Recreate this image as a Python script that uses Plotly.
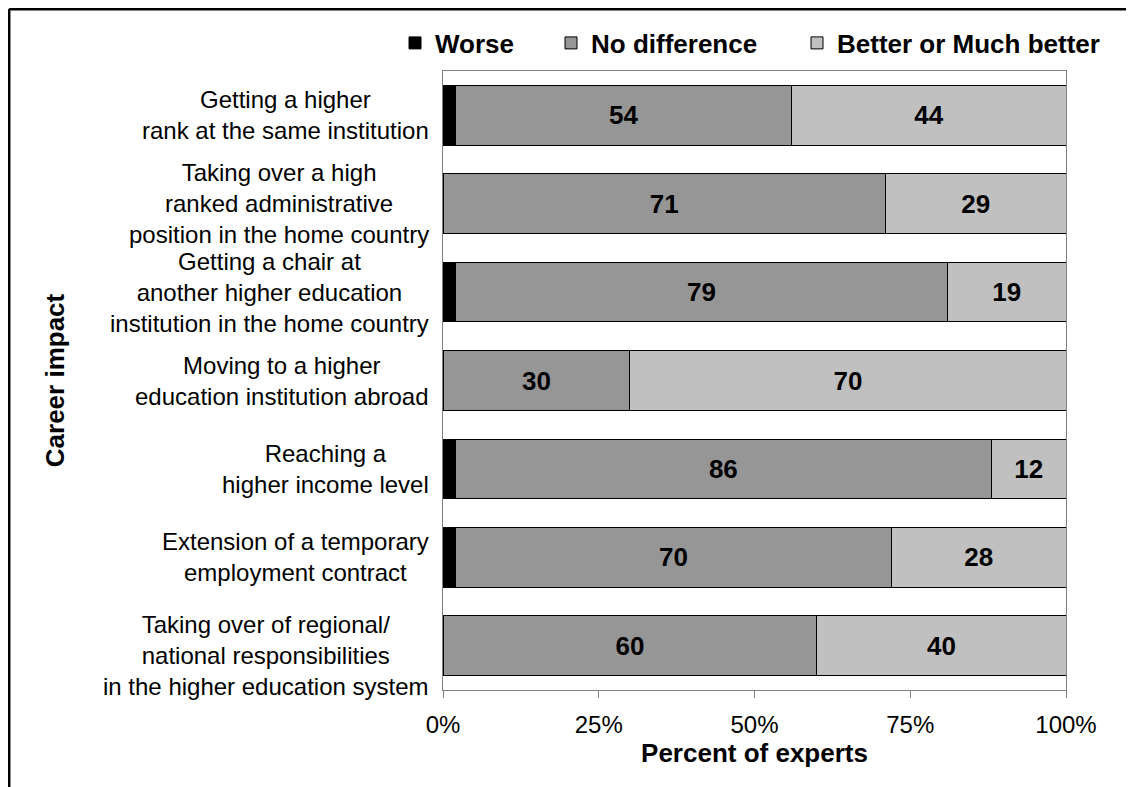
import plotly.graph_objects as go

categories = [
    "Getting a higher<br>rank at the same institution",
    "Taking over a high<br>ranked administrative<br>position in the home country",
    "Getting a chair at<br>another higher education<br>institution in the home country",
    "Moving to a higher<br>education institution abroad",
    "Reaching a<br>higher income level",
    "Extension of a temporary<br>employment contract",
    "Taking over of regional/<br>national responsibilities<br>in the higher education system",
]
worse = [2, 0, 2, 0, 2, 2, 0]
no_difference = [54, 71, 79, 30, 86, 70, 60]
better = [44, 29, 19, 70, 12, 28, 40]
x_ticks = [0, 25, 50, 75, 100]
x_tick_labels = ["0%", "25%", "50%", "75%", "100%"]

FONT = "Liberation Sans, Arial, sans-serif"
OFF = 8  # default page body margin
W, H = 1134 - OFF, 787 - OFF
L, T = 443 - OFF, 71 - OFF
R = W - (1066 - OFF)
B = H - (690 - OFF)
PW, PH = W - L - R, H - T - B


def px_x(p):
    """page pixel x -> paper coordinate"""
    return (p - OFF - L) / PW


def px_y(p):
    """page pixel y -> paper coordinate"""
    return 1 - (p - OFF - T) / PH


LEGEND_FONT = dict(family=FONT, size=26, color="#000000", weight="bold")
BAR_TEXT = dict(family=FONT, size=26, color="#000000", weight="bold")

fig = go.Figure()
fig.add_trace(go.Bar(
    y=categories, x=worse, name="Worse", orientation="h",
    marker=dict(color="#000000", line=dict(color="#000000", width=1)),
    legend="legend",
))
fig.add_trace(go.Bar(
    y=categories, x=no_difference, name="No difference", orientation="h",
    marker=dict(color="#969696", line=dict(color="#000000", width=1)),
    texttemplate="%{x}", textposition="inside", insidetextanchor="middle",
    constraintext="none", textfont=BAR_TEXT,
    legend="legend2",
))
fig.add_trace(go.Bar(
    y=categories, x=better, name="Better or Much better", orientation="h",
    marker=dict(color="#C0C0C0", line=dict(color="#000000", width=1)),
    texttemplate="%{x}", textposition="inside", insidetextanchor="middle",
    constraintext="none", textfont=BAR_TEXT,
    legend="legend3",
))

annotations = []
for i, cat in enumerate(categories):
    annotations.append(dict(
        x=0, xref="paper", y=cat, yref="y",
        text=cat, showarrow=False, xanchor="right", yanchor="middle",
        align="center", xshift=-12, yshift=(-10 if i == len(categories) - 1 else 0),
        font=dict(family=FONT, size=24, color="#000000"),
    ))

shapes = [
    dict(type="line", xref="paper", yref="paper",
         x0=px_x(9), x1=px_x(1134), y0=px_y(9.2), y1=px_y(9.2),
         line=dict(color="#000000", width=2.5)),
    dict(type="line", xref="paper", yref="paper",
         x0=px_x(9.2), x1=px_x(9.2), y0=px_y(9), y1=px_y(787),
         line=dict(color="#000000", width=2.5)),
]


def legend_at(text_start_px):
    return dict(
        orientation="h", x=px_x(text_start_px - 40), xanchor="left",
        y=px_y(43), yanchor="middle", font=LEGEND_FONT,
        bgcolor="rgba(0,0,0,0)", borderwidth=0, itemclick=False,
        itemdoubleclick=False,
    )


fig.update_layout(
    width=W, height=H,
    margin=dict(l=L, r=R, t=T, b=B, autoexpand=False),
    barmode="stack", bargap=0.325,
    paper_bgcolor="#FFFFFF", plot_bgcolor="#FFFFFF",
    font=dict(family=FONT, size=24, color="#000000"),
    showlegend=True,
    legend=legend_at(435),
    legend2=legend_at(591),
    legend3=legend_at(837),
    xaxis=dict(
        range=[0, 100], tickvals=x_ticks, ticktext=x_tick_labels,
        showgrid=False, zeroline=False,
        showline=True, linecolor="#808080", linewidth=1, mirror=True,
        ticks="outside", ticklen=7, tickcolor="#808080", tickwidth=1,
        ticklabelstandoff=6,
        tickfont=dict(family=FONT, size=24, color="#000000"),
        title=dict(text="Percent of experts", standoff=6,
                   font=dict(family=FONT, size=26, color="#000000", weight="bold")),
        fixedrange=True,
    ),
    yaxis=dict(
        autorange="reversed", showticklabels=False, ticks="",
        showgrid=False, zeroline=False,
        showline=True, linecolor="#808080", linewidth=1, mirror=True,
        title=dict(text="Career impact", standoff=369,
                   font=dict(family=FONT, size=26, color="#000000", weight="bold")),
        fixedrange=True,
    ),
    annotations=annotations,
    shapes=shapes,
)

fig.write_html("out.html")
